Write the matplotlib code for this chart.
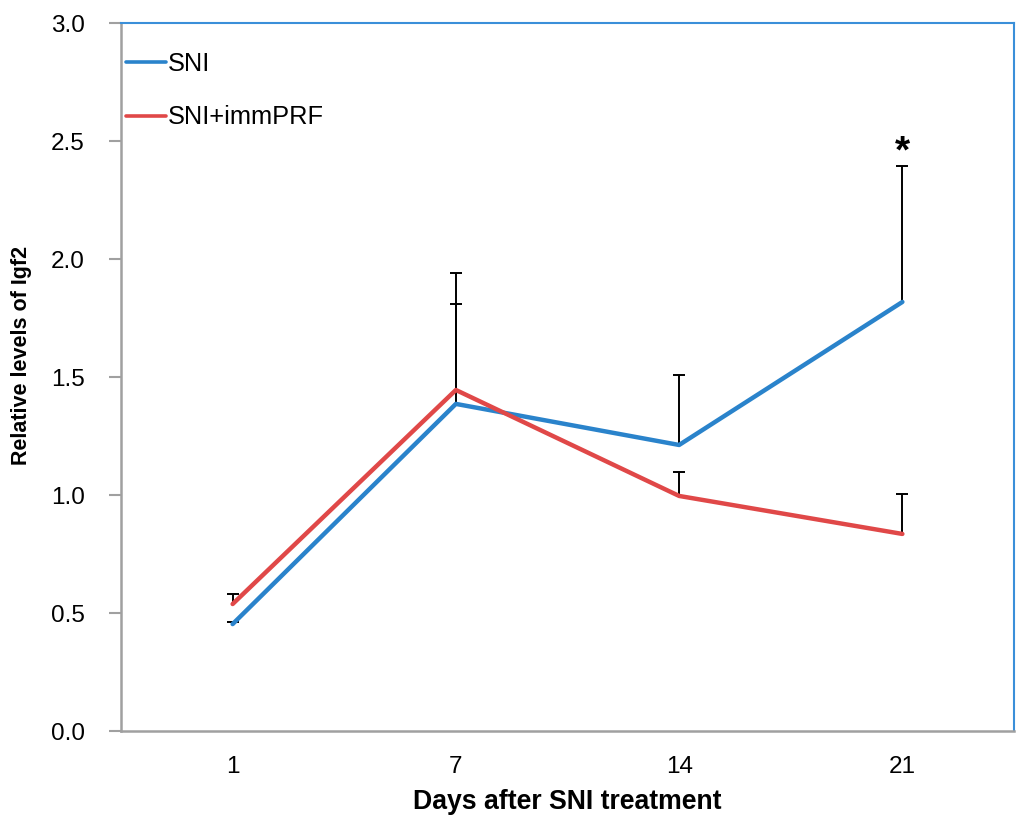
import matplotlib
matplotlib.use("Agg")
import matplotlib.pyplot as plt
from matplotlib import font_manager
import numpy as np

plt.rcParams['font.family'] = ['Liberation Sans', 'DejaVu Sans']

days = ["1", "7", "14", "21"]
sni = [0.453, 1.386, 1.212, 1.818]
sni_err = [0.01, 0.425, 0.295, 0.576]
prf = [0.538, 1.445, 0.996, 0.835]
prf_err = [0.042, 0.495, 0.101, 0.169]
star_day = "21"
star_y = 2.45

fig = plt.figure(figsize=(10.24, 8.26), dpi=100)
ax = fig.add_axes([121/1024, 1 - 731/826, (1014-121)/1024, (731-23)/826])

x = np.arange(len(days)) + 0.5
blue = "#2A83CB"
red = "#E04848"

for vals, errs in [(sni, sni_err), (prf, prf_err)]:
    vals = np.array(vals)
    errs = np.array(errs)
    ax.vlines(x, vals, vals + errs, color='black', lw=1.4, zorder=2)
    ax.plot(x, vals + errs, ls='none', marker='_', ms=8, mew=1.4,
            color='black', zorder=2)

ax.plot(x, sni, color=blue, lw=3.2, label="SNI", zorder=3, solid_capstyle='round')
ax.plot(x, prf, color=red, lw=3.2, label="SNI+immPRF", zorder=3, solid_capstyle='round')

ax.text(x[days.index(star_day)], star_y, "*", ha='center', va='center',
        fontsize=28, fontweight='bold')

ax.set_xlim(0, len(days))
ax.set_ylim(0, 3.0)
ax.set_xticks(x)
ax.set_xticklabels(days)
ax.set_yticks(np.arange(0, 3.01, 0.5))
ax.set_yticklabels([f"{v:.1f}" for v in np.arange(0, 3.01, 0.5)])
ax.tick_params(axis='x', length=0, labelsize=17.5, pad=18)
ax.tick_params(axis='y', length=9, width=1.5, color='#A0A0A0', labelsize=17.5, pad=17)

for s in ['left', 'bottom']:
    ax.spines[s].set_color('#A0A0A0')
    ax.spines[s].set_linewidth(1.8)
for s in ['top', 'right']:
    ax.spines[s].set_color('#3A8FD9')
    ax.spines[s].set_linewidth(1.5)

ax.set_xlabel("Days after SNI treatment", fontsize=19.2, fontweight='bold', labelpad=8)

names = {f.name for f in font_manager.fontManager.ttflist}
if 'Liberation Sans Narrow' in names:
    ax.set_ylabel("Relative levels of Igf2", fontsize=19.5, fontweight='bold',
                  family=['Liberation Sans Narrow', 'DejaVu Sans'])
else:
    ax.set_ylabel("Relative levels of Igf2", fontsize=15.5, fontweight='bold')
ax.yaxis.set_label_coords(-89/893, (731-355)/708)

leg = ax.legend(loc='upper left', bbox_to_anchor=(-0.0134, 0.982), frameon=False,
                fontsize=18.3, handlelength=1.6, handletextpad=0.08, labelspacing=1.15,
                borderaxespad=0.3, borderpad=0.35)
for h in leg.get_lines():
    h.set_linewidth(2.6)

fig.savefig("out.png", dpi=100)
